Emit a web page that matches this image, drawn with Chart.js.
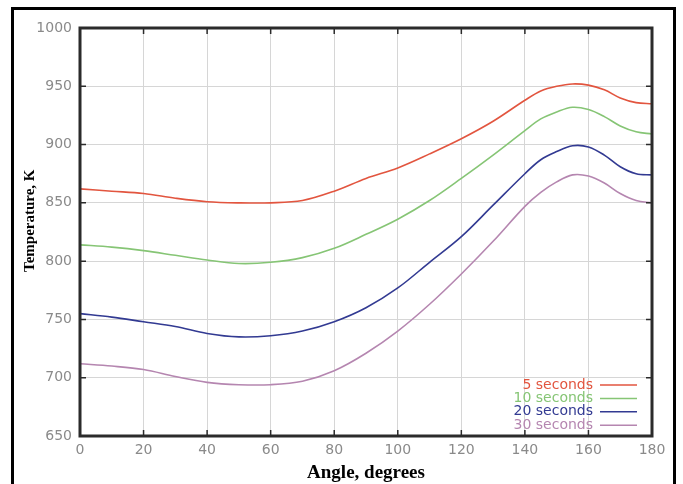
<!DOCTYPE html>
<html>
<head>
<meta charset="utf-8">
<script src="https://cdn.jsdelivr.net/npm/chart.js@4.4.0/dist/chart.umd.min.js"></script>
<style>
  html, body { margin: 0; padding: 0; background: #fff; }
  #wrap { position: relative; width: 683px; height: 484px; overflow: hidden; }
  #frame { position: absolute; left: 11px; top: 7px; width: 665px; height: 490px; border: 3px solid #000; box-sizing: border-box; pointer-events: none; }
  canvas { position: absolute; left: 0; top: 0; }
</style>
</head>
<body>
<div id="wrap">
  <canvas id="chart" width="683" height="484"></canvas>
  <div id="frame"></div>
</div>
<script>
// angle (degrees) and temperature (K)
const angles = [0, 10, 20, 30, 40, 50, 60, 70, 80, 90, 100, 110, 120, 130, 140, 145, 150, 155, 160, 165, 170, 175, 180];
const sec5  = [862, 860, 858, 854, 851, 850, 850, 852, 860, 871, 880, 892, 905, 920, 938, 946, 950, 952, 951, 947, 940, 936, 935];
const sec10 = [814, 812, 809, 805, 801, 798, 799, 803, 811, 823, 836, 852, 871, 891, 912, 922, 928, 932, 930, 924, 916, 911, 909];
const sec20 = [755, 752, 748, 744, 738, 735, 736, 740, 748, 760, 777, 799, 821, 848, 875, 887, 894, 899, 898, 891, 881, 875, 874];
const sec30 = [712, 710, 707, 701, 696, 694, 694, 697, 706, 721, 740, 763, 789, 817, 847, 859, 868, 874, 873, 867, 858, 852, 850];

const seriesLabels = ["5 seconds", "10 seconds", "20 seconds", "30 seconds"];
const seriesValues = [sec5, sec10, sec20, sec30];
const seriesColors = ["#e2553f", "#86c575", "#323a92", "#b586b0"];

const xTicks = [0, 20, 40, 60, 80, 100, 120, 140, 160, 180];
const yTicks = [650, 700, 750, 800, 850, 900, 950, 1000];

const tickFont = { family: "'DejaVu Sans', sans-serif", size: 14 };
const tickColor = "#8a8a8a";

// plot box, inward tick marks and the legend, gnuplot style
const framePlugin = {
  id: "frame",
  afterDatasetsDraw(chart) {
    const ctx = chart.ctx;
    const a = chart.chartArea;
    const xs = chart.scales.x, ys = chart.scales.y;
    ctx.save();
    ctx.strokeStyle = "#2b2b2b";
    ctx.lineWidth = 1.5;
    xTicks.forEach(v => {
      const px = xs.getPixelForValue(v);
      ctx.beginPath();
      ctx.moveTo(px, a.bottom); ctx.lineTo(px, a.bottom - 6);
      ctx.moveTo(px, a.top); ctx.lineTo(px, a.top + 6);
      ctx.stroke();
    });
    yTicks.forEach(v => {
      const py = ys.getPixelForValue(v);
      ctx.beginPath();
      ctx.moveTo(a.left, py); ctx.lineTo(a.left + 6, py);
      ctx.moveTo(a.right, py); ctx.lineTo(a.right - 6, py);
      ctx.stroke();
    });
    ctx.lineWidth = 3;
    ctx.strokeRect(a.left, a.top, a.right - a.left, a.bottom - a.top);

    ctx.font = "14px 'DejaVu Sans', sans-serif";
    ctx.textAlign = "right";
    ctx.textBaseline = "middle";
    seriesLabels.forEach((lab, i) => {
      const y = a.bottom - 51 + i * 13.4;
      ctx.fillStyle = seriesColors[i];
      ctx.fillText(lab, a.right - 59, y);
      ctx.strokeStyle = seriesColors[i];
      ctx.lineWidth = 1.5;
      ctx.beginPath();
      ctx.moveTo(a.right - 52, y); ctx.lineTo(a.right - 15, y);
      ctx.stroke();
    });
    ctx.restore();
  }
};

const datasets = seriesLabels.map((lab, i) => ({
  label: lab,
  data: angles.map((a, j) => ({ x: a, y: seriesValues[i][j] })),
  borderColor: seriesColors[i],
  borderWidth: 1.6,
  pointRadius: 0,
  fill: false,
  tension: 0.35
}));

new Chart(document.getElementById("chart"), {
  type: "line",
  data: { datasets: datasets },
  options: {
    responsive: false,
    devicePixelRatio: 1,
    animation: false,
    layout: { padding: { left: 0, right: 31, top: 28, bottom: 0 } },
    plugins: { legend: { display: false }, tooltip: { enabled: false } },
    scales: {
      x: {
        type: "linear",
        min: 0, max: 180,
        afterBuildTicks: s => { s.ticks = xTicks.map(v => ({ value: v })); },
        afterFit: s => { s.height = 48; },
        ticks: { color: tickColor, font: tickFont, padding: 6, callback: v => String(v) },
        grid: { color: "#d6d6d6", drawTicks: false },
        border: { display: false },
        title: {
          display: true,
          text: "Angle, degrees",
          color: "#000",
          font: { family: "'Liberation Serif', 'Times New Roman', serif", size: 19, weight: "bold" },
          padding: { top: 0, bottom: 0 }
        }
      },
      y: {
        type: "linear",
        min: 650, max: 1000,
        afterBuildTicks: s => { s.ticks = yTicks.map(v => ({ value: v })); },
        afterFit: s => { s.width = 80; },
        ticks: { color: tickColor, font: tickFont, padding: 8, callback: v => String(v) },
        grid: { color: "#d6d6d6", drawTicks: false },
        border: { display: false },
        title: {
          display: true,
          text: "      Temperature, K",
          color: "#000",
          font: { family: "'Liberation Serif', 'Times New Roman', serif", size: 15, weight: "bold" },
          padding: { top: 21, bottom: 0 }
        }
      }
    }
  },
  plugins: [framePlugin]
});
</script>
</body>
</html>
